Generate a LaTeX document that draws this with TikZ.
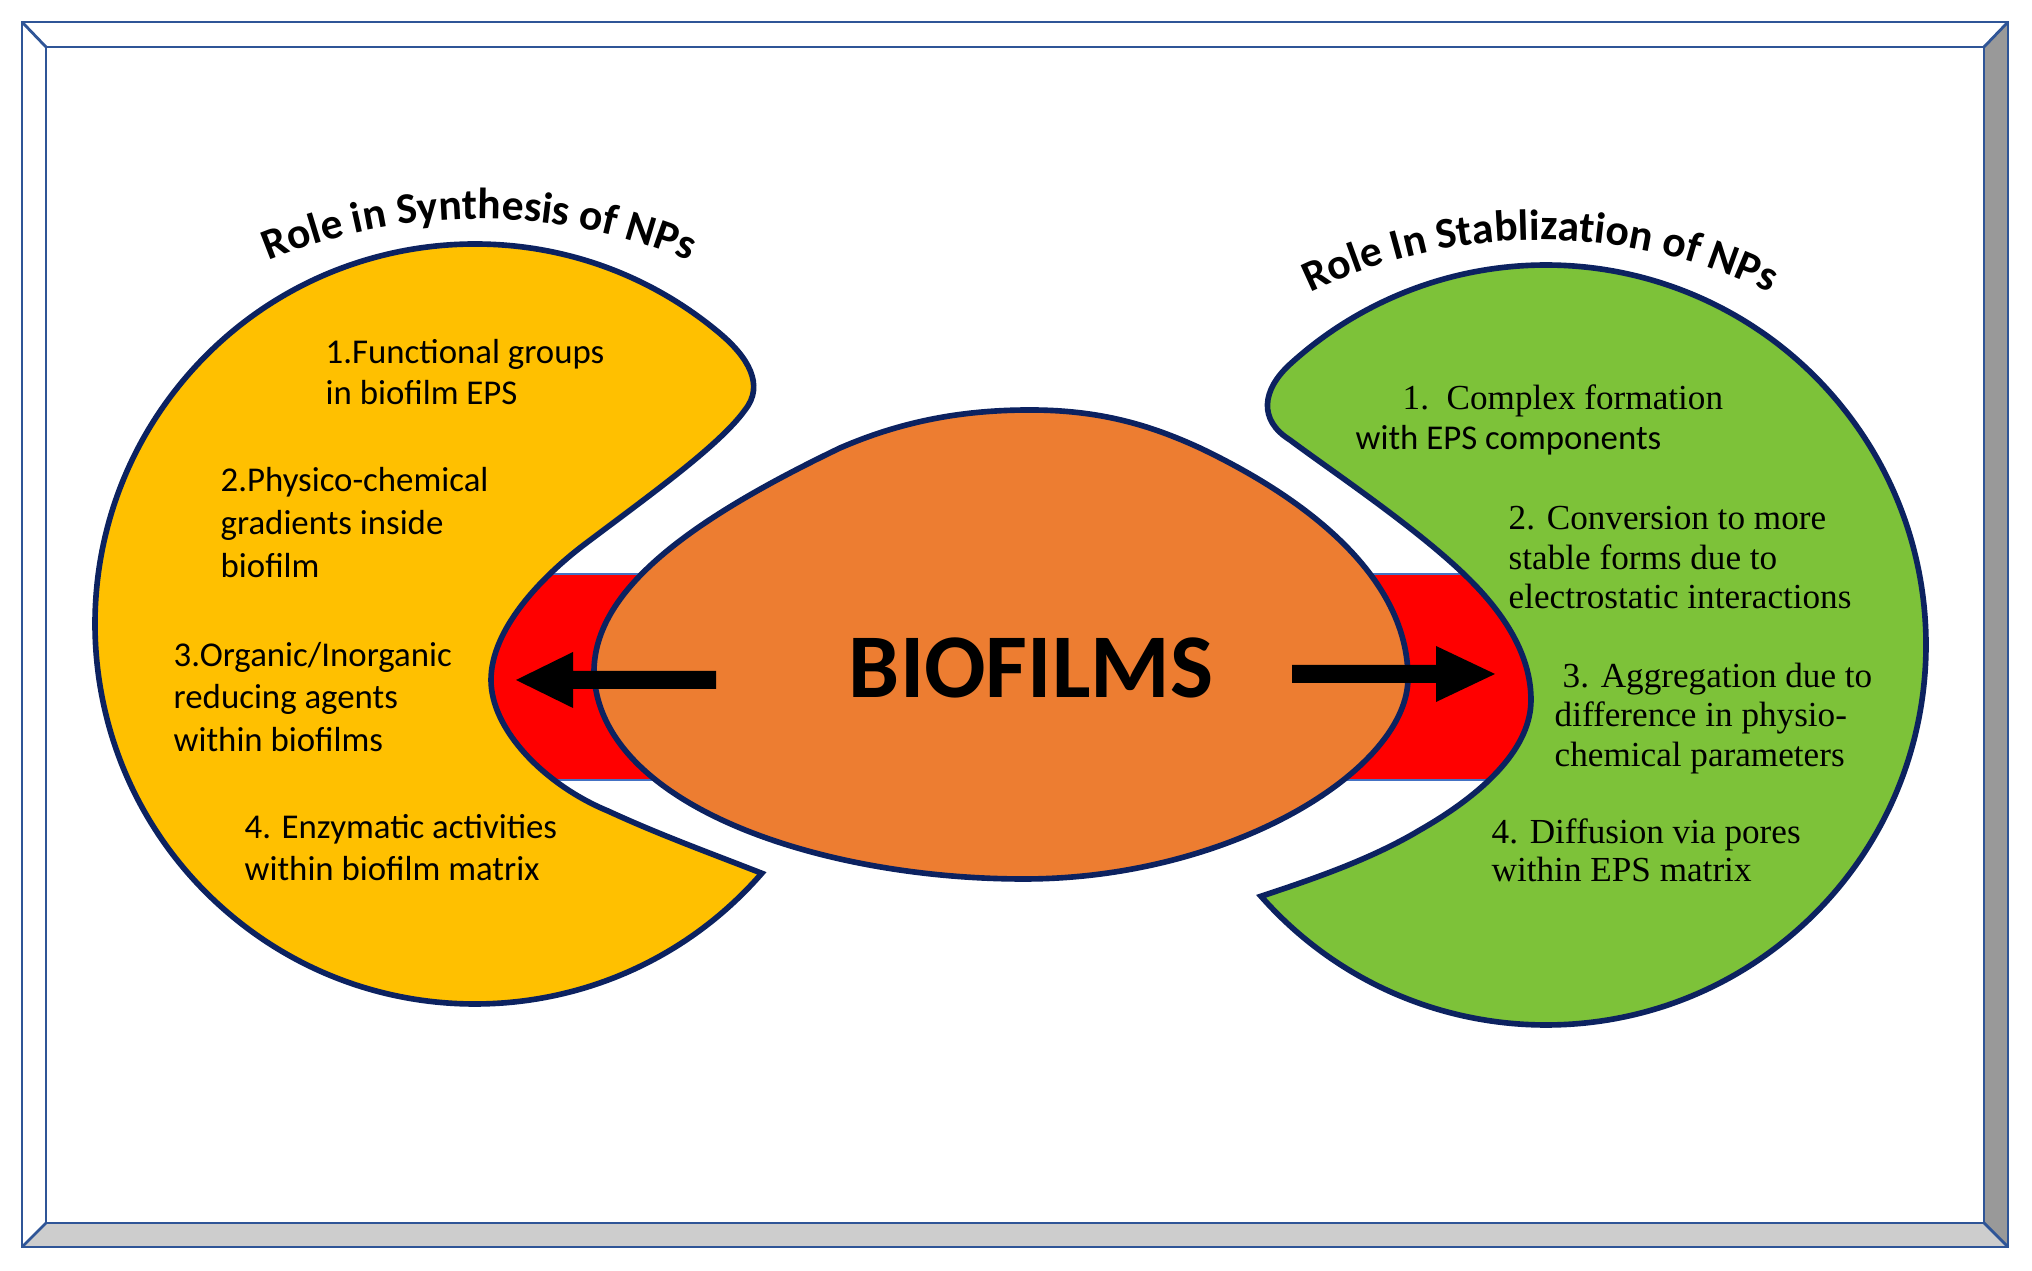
\documentclass[tikz,border=0pt]{standalone}
\usepackage{fontspec}
\setmainfont{Liberation Serif}
\newfontfamily\carlito{Carlito}
\usetikzlibrary{decorations.text}
\definecolor{framecol}{RGB}{47,85,151}
\definecolor{navy}{RGB}{12,34,96}
\definecolor{yel}{RGB}{255,192,0}
\definecolor{grn}{RGB}{125,194,57}
\definecolor{org}{RGB}{237,125,49}
\definecolor{bandblue}{RGB}{68,114,196}
\definecolor{bevelR}{RGB}{153,153,153}
\definecolor{bevelB}{RGB}{205,205,205}
\newcommand{\titlefont}{\carlito\bfseries\fontsize{12.4}{14}\selectfont}
\begin{document}
\begin{tikzpicture}[x=0.01cm,y=0.01cm,
  blob/.style={draw=navy, line width=1.6pt},
  sanslbl/.style={anchor=base west, inner sep=0pt, font=\carlito\fontsize{9.9}{12}\selectfont},
  seriflbl/.style={anchor=base west, inner sep=0pt, font=\fontsize{10}{12}\selectfont},
  framel/.style={draw=framecol, line width=0.8pt},
  blockarrow/.style={fill=black, draw=none}]
\begin{scope}[yscale=-1]
\useasboundingbox (0,0) rectangle (2032,1271);
% frame
\fill[white] (22,22) rectangle (2008,1247);
\fill[bevelR] (2008,22) -- (2008,1247) -- (1984,1223) -- (1984,47) -- cycle;
\fill[bevelB] (22,1247) -- (2008,1247) -- (1984,1223) -- (46,1223) -- cycle;
\draw[framel] (22,22) rectangle (2008,1247);
\draw[framel] (46,47) rectangle (1984,1223);
\draw[framel] (22,22) -- (46,47) (2008,22) -- (1984,47) (2008,1247) -- (1984,1223) (22,1247) -- (46,1223);
% red band
\draw[fill=red, draw=bandblue, line width=0.4pt] (480,574) rectangle (1560,780);
% yellow shape
\draw[blob, fill=yel] (761.8,873.3) arc[start angle=41, end angle=310, radius=380]
  .. controls (748,357) and (765,385) .. (745,410)
  .. controls (720,445) and (650,495) .. (585,544)
  .. controls (540,578) and (491,630) .. (491,680)
  .. controls (491,730) and (545,785) .. (608,811)
  .. controls (660,835) and (710,853) .. (761.8,873.3) -- cycle;
% green shape
\draw[blob, fill=grn] (1261.0,896.3) arc[start angle=138.6, end angle=-132.4, radius=380]
  .. controls (1262,390) and (1258,420) .. (1290,440)
  .. controls (1330,470) and (1420,530) .. (1470,580)
  .. controls (1510,620) and (1531,660) .. (1531,700)
  .. controls (1531,745) and (1490,790) .. (1420,830)
  .. controls (1370,860) and (1310,880) .. (1261.0,896.3) -- cycle;
% orange blob
\draw[blob, fill=org] (1030,410) .. controls (1100,410) and (1150,425) .. (1200,448)
  .. controls (1330,510) and (1408,590) .. (1408,678)
  .. controls (1408,770) and (1230,879) .. (1024,879)
  .. controls (820,879) and (598,805) .. (594,672)
  .. controls (594,590) and (690,520) .. (840,448)
  .. controls (900,422) and (960,410) .. (1030,410) -- cycle;
% arrows
\fill[blockarrow] (716,671) -- (573,671) -- (573,652) -- (516,680) -- (573,708) -- (573,689) -- (716,689) -- cycle;
\fill[blockarrow] (1292,665) -- (1436,665) -- (1436,646) -- (1495,674) -- (1436,702) -- (1436,683) -- (1292,683) -- cycle;
% center text
\node[inner sep=0pt, font=\carlito\bfseries\fontsize{25.9}{30}\selectfont] (bio) at (1031,668) {BIOFILMS};
% yellow texts
\node[sanslbl] (y1a) at (325,364) {1.Functional groups};
\node[sanslbl] (y1b) at (325,405) {in biofilm EPS};
\node[sanslbl] (y2a) at (220,492) {2.Physico-chemical};
\node[sanslbl] (y2b) at (220,535) {gradients inside};
\node[sanslbl] (y2c) at (220,578) {biofilm};
\node[sanslbl] (y3a) at (173,667) {3.Organic/Inorganic};
\node[sanslbl] (y3b) at (173,709) {reducing agents};
\node[sanslbl] (y3c) at (173,752) {within biofilms};
\node[sanslbl] (y4a) at (244,839) {4. Enzymatic activities};
\node[sanslbl] (y4b) at (244,881) {within biofilm matrix};
% green texts
\node[seriflbl] (g1a) at (1402,410) {1.\ \ Complex formation};
\node[sanslbl] (g1b) at (1355,450) {with EPS components};
\node[seriflbl] (g2a) at (1508,530) {2. Conversion to more};
\node[seriflbl] (g2b) at (1508,570) {stable forms due to};
\node[seriflbl] (g2c) at (1508,609) {electrostatic interactions};
\node[seriflbl] (g3a) at (1562,688) {3. Aggregation due to};
\node[seriflbl] (g3b) at (1554,727) {difference in physio-};
\node[seriflbl] (g3c) at (1554,767) {chemical parameters};
\node[seriflbl] (g4a) at (1491,844) {4. Diffusion via pores};
\node[seriflbl] (g4b) at (1491,882) {within EPS matrix};
\end{scope}
\begin{scope}[shift={(0,-1271)}]
\path[decorate, decoration={text along path, text align=center, text={|\titlefont|Role in Synthesis of NPs}}]
  (203.5,978.2) arc[start angle=120, end angle=60, radius=551];
\path[decorate, decoration={text along path, text align=center, text={|\titlefont|Role In Stablization of NPs}}]
  (1229.1,930.0) arc[start angle=126, end angle=54, radius=529];
\end{scope}
\end{tikzpicture}
\end{document}
